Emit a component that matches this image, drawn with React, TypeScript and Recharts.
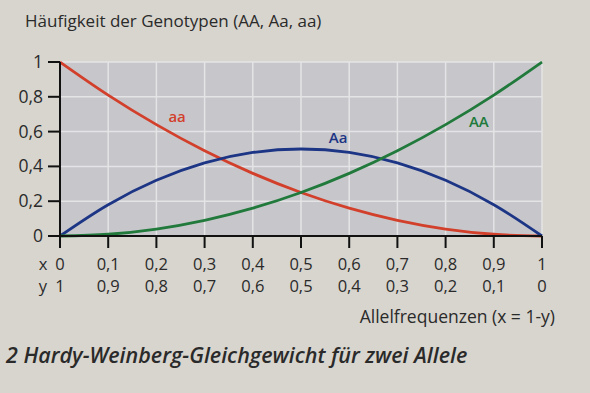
import React from 'react';
import { LineChart, Line, XAxis, YAxis, CartesianGrid, ReferenceDot } from 'recharts';

const xValues = [0, 0.1, 0.2, 0.3, 0.4, 0.5, 0.6, 0.7, 0.8, 0.9, 1];
const aaValues = [1, 0.81, 0.64, 0.49, 0.36, 0.25, 0.16, 0.09, 0.04, 0.01, 0];
const AaValues = [0, 0.18, 0.32, 0.42, 0.48, 0.5, 0.48, 0.42, 0.32, 0.18, 0];
const AAValues = [0, 0.01, 0.04, 0.09, 0.16, 0.25, 0.36, 0.49, 0.64, 0.81, 1];
const yTicks = [0, 0.2, 0.4, 0.6, 0.8, 1];
const xRowLabels = ['0', '0,1', '0,2', '0,3', '0,4', '0,5', '0,6', '0,7', '0,8', '0,9', '1'];
const yRowLabels = ['1', '0,9', '0,8', '0,7', '0,6', '0,5', '0,4', '0,3', '0,2', '0,1', '0'];
const yTickLabels = ['0', '0,2', '0,4', '0,6', '0,8', '1'];

const title = 'Häufigkeit der Genotypen (AA, Aa, aa)';
const axisTitle = 'Allelfrequenzen (x = 1-y)';
const caption = '2 Hardy-Weinberg-Gleichgewicht für zwei Allele';

const data = xValues.map((x, i) => ({ x, aa: aaValues[i], Aa: AaValues[i], AA: AAValues[i] }));

const FONT = '"Open Sans", sans-serif';
const TEXT = '#2a2a2a';
const RED = '#d2402c';
const BLUE = '#1d3585';
const GREEN = '#217a3c';

const XTick = (props: any) => {
  const { x, y, payload, index } = props;
  const i = xValues.indexOf(payload.value);
  const idx = i >= 0 ? i : index;
  return (
    <g>
      <text x={x} y={y + 20} textAnchor="middle" fontSize={16.5} fill={TEXT} fontFamily={FONT}>
        {xRowLabels[idx]}
      </text>
      <text x={x} y={y + 42} textAnchor="middle" fontSize={16.5} fill={TEXT} fontFamily={FONT}>
        {yRowLabels[idx]}
      </text>
      {idx === 0 && (
        <>
          <text x={x - 17} y={y + 20} textAnchor="middle" fontSize={16.5} fill={TEXT} fontFamily={FONT}>x</text>
          <text x={x - 17} y={y + 42} textAnchor="middle" fontSize={16.5} fill={TEXT} fontFamily={FONT}>y</text>
        </>
      )}
    </g>
  );
};

const YTick = (props: any) => {
  const { x, y, payload } = props;
  const i = yTicks.indexOf(payload.value);
  return (
    <text x={x} y={y + 6} textAnchor="end" fontSize={17.5} fill={TEXT} fontFamily={FONT}>
      {yTickLabels[i]}
    </text>
  );
};

export default function App() {
  return (
    <div style={{ position: 'absolute', left: 0, top: 0, width: 590, height: 393, background: '#d8d5ce', fontFamily: FONT, overflow: 'hidden' }}>
      <div style={{ position: 'absolute', left: 25, top: 9, fontSize: 17, color: TEXT, whiteSpace: 'nowrap' }}>{title}</div>
      <LineChart width={590} height={393} data={data} margin={{ top: 62, right: 48, left: 0, bottom: 0 }}>
        <CartesianGrid fill="#c7c7cb" stroke="#e4e4e6" strokeWidth={1.5} horizontal vertical />
        <XAxis
          dataKey="x"
          type="number"
          domain={[0, 1]}
          ticks={xValues}
          height={157}
          tickSize={12}
          tickLine={{ stroke: '#111', strokeWidth: 2 }}
          axisLine={{ stroke: '#111', strokeWidth: 2 }}
          tick={<XTick />}
          interval={0}
        />
        <YAxis
          type="number"
          domain={[0, 1]}
          ticks={yTicks}
          width={60}
          tickSize={12}
          tickMargin={5}
          tickLine={{ stroke: '#111', strokeWidth: 2 }}
          axisLine={{ stroke: '#111', strokeWidth: 2 }}
          tick={<YTick />}
          interval={0}
        />
        <Line type="monotone" dataKey="aa" stroke={RED} strokeWidth={2.8} dot={false} isAnimationActive={false} />
        <Line type="monotone" dataKey="Aa" stroke={BLUE} strokeWidth={2.8} dot={false} isAnimationActive={false} />
        <Line type="monotone" dataKey="AA" stroke={GREEN} strokeWidth={2.8} dot={false} isAnimationActive={false} />
        <ReferenceDot x={0.243} y={0.684} r={0} fill="none" stroke="none"
          label={{ value: 'aa', position: 'center', fill: RED, fontSize: 15, fontWeight: 600, fontFamily: FONT }} />
        <ReferenceDot x={0.577} y={0.563} r={0} fill="none" stroke="none"
          label={{ value: 'Aa', position: 'center', fill: BLUE, fontSize: 15, fontWeight: 600, fontFamily: FONT }} />
        <ReferenceDot x={0.869} y={0.655} r={0} fill="none" stroke="none"
          label={{ value: 'AA', position: 'center', fill: GREEN, fontSize: 15, fontWeight: 600, fontFamily: FONT }} />
      </LineChart>
      <div style={{ position: 'absolute', right: 35, top: 304, fontSize: 17.5, color: TEXT, whiteSpace: 'nowrap' }}>{axisTitle}</div>
      <div style={{ position: 'absolute', left: 6, top: 340, fontSize: 21.5, fontStyle: 'italic', fontWeight: 600, color: TEXT, whiteSpace: 'nowrap' }}>{caption}</div>
    </div>
  );
}
